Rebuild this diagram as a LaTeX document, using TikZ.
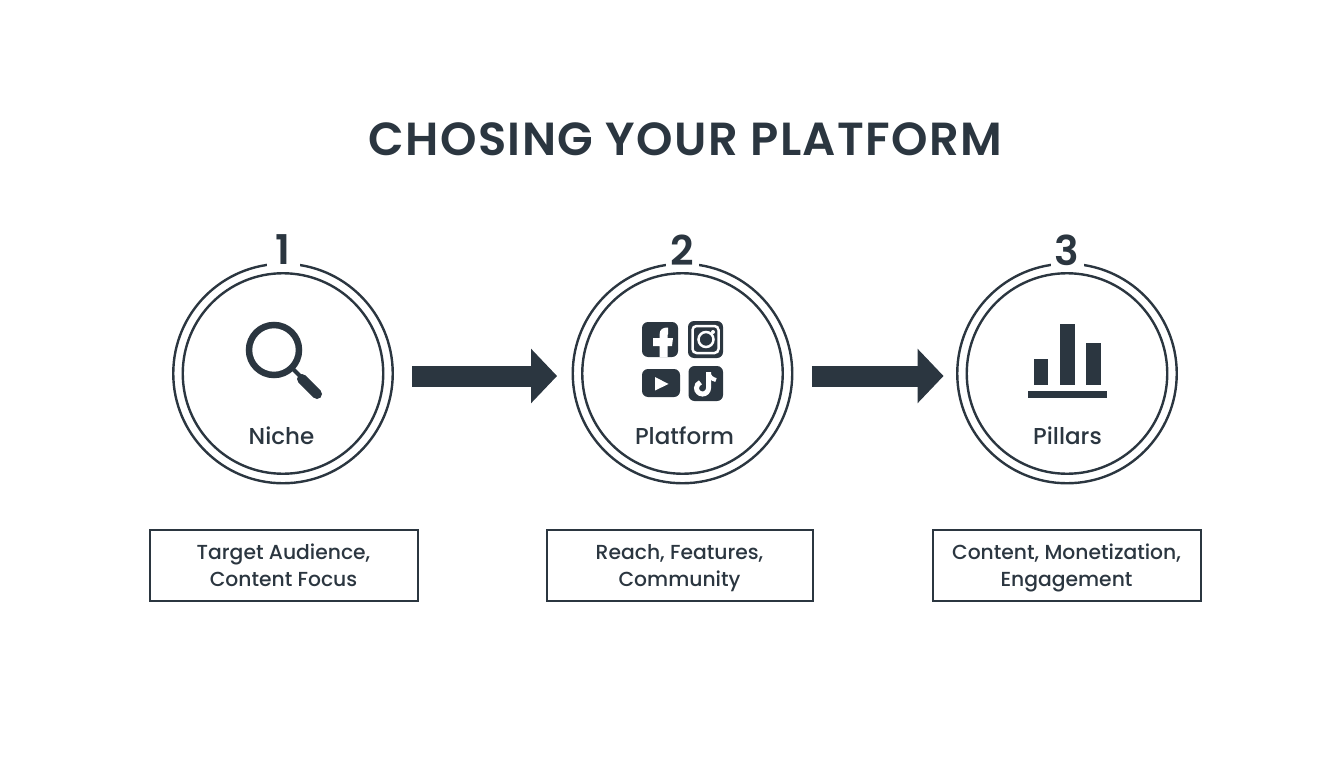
\documentclass[tikz,border=0pt]{standalone}
\usepackage{fontspec}
\setmainfont{Poppins}
\newfontfamily\titlefont[LetterSpace=3]{Poppins SemiBold}
\newfontfamily\labelfont{Poppins Medium}
\usetikzlibrary{arrows.meta}
\definecolor{slate}{HTML}{2B3640}
\tikzset{
    ringnode/.style={circle, draw=slate, line width=2.4pt, inner sep=0pt},
    numnode/.style={fill=white, text=slate, inner sep=0pt, minimum width=33pt, minimum height=36pt, font=\titlefont\fontsize{41}{41}\selectfont},
    namenode/.style={text=slate, inner sep=0pt, font=\labelfont\fontsize{23}{23}\selectfont},
    boxnode/.style={draw=slate, line width=2pt, text=slate, align=center, inner sep=0pt, minimum height=71pt, font=\labelfont\fontsize{20.3}{27}\selectfont},
    flow/.style={slate, line width=21pt, -{Triangle[length=26pt,width=53pt]}, shorten <=18.5pt, shorten >=14.5pt, transform canvas={yshift=-2.5pt}},
    tile/.style={fill=slate, rounded corners=6pt},
}
\begin{document}
\begin{tikzpicture}[x=1pt, y=-1pt]
    \useasboundingbox (0,0) rectangle (1344,768);
    %\draw (0,0) grid (1344,768);
    \node[text=slate, inner sep=0pt, font=\titlefont\fontsize{46.4}{46.4}\selectfont] (title) at (685.5,139.5) {CHOSING YOUR PLATFORM};

    \foreach \x/\nm/\n/\bx/\bw/\tx/\lbl/\txt in {%
        283/niche/1/283.5/268/281.5/Niche/{Target Audience,\\Content Focus},
        682.5/platform/2/679.5/266/684.5/Platform/{Reach, Features,\\Community},
        1067/pillars/3/1066.5/268/1067.5/Pillars/{Content, Monetization,\\Engagement}}
    {%
        \node[ringnode, minimum size=219.5pt] (\nm) at (\x,373.5) {};
        \node[ringnode, minimum size=200.5pt] (\nm inner) at (\x,373.5) {};
        \node[numnode] (\nm num) at (\x,250) {\n};
        \node[namenode] (\nm name) at (\tx,436) {\lbl};
        \node[boxnode, minimum width=\bw pt] (\nm box) at (\bx,565) {\rule{0pt}{24pt}\txt\strut};
    }

    \draw[flow] (niche) -- (platform);
    \draw[flow, shorten >=12.5pt] (platform) -- (pillars);

    % magnifier
    \draw[slate, line width=6.5pt] (274,350) circle [radius=25];
    \draw[slate, line width=4pt] (292,368) -- (302,378);
    \draw[slate, line width=10pt, line cap=round] (302,379) -- (317,394);

    % social tiles
    \fill[tile] (642,322) rectangle (678,357);
    \fill[white] (659.5,357) -- (659.5,346) -- (653,346) -- (653,338) -- (659.5,338) -- (659.5,335)
        .. controls (659.5,329) and (663,327.5) .. (668,327.5) -- (668,334)
        .. controls (667.5,334) and (667.5,336) .. (667.5,338) -- (673,338) -- (672,346) -- (667.5,346) -- (667.5,357) -- cycle;
    \fill[tile] (688,321) rectangle (723,358);
    \draw[white, line width=2.5pt, rounded corners=4pt] (692.5,326) rectangle (718.5,353);
    \draw[white, line width=2.5pt] (706,339.5) circle [radius=7.5];
    \fill[white] (713,332) circle [radius=2];
    \fill[tile] (642,369) rectangle (680,397);
    \fill[white] (655,377) -- (668.5,384) -- (655,390.5) -- cycle;
    \fill[tile] (688.5,366) rectangle (723,401);
    \draw[white, line width=5pt] (708.5,372) -- (708.5,388) arc [start angle=0, end angle=250, radius=6];
    \draw[white, line width=4pt] (708.5,373) .. controls (709.5,377) and (712,379) .. (716,380);

    % bars
    \fill[slate] (1033.5,359) rectangle (1048,384.5);
    \fill[slate] (1060,324) rectangle (1075,384.5);
    \fill[slate] (1086,343) rectangle (1101,384.5);
    \fill[slate] (1028,391) rectangle (1107,398);
\end{tikzpicture}
\end{document}
